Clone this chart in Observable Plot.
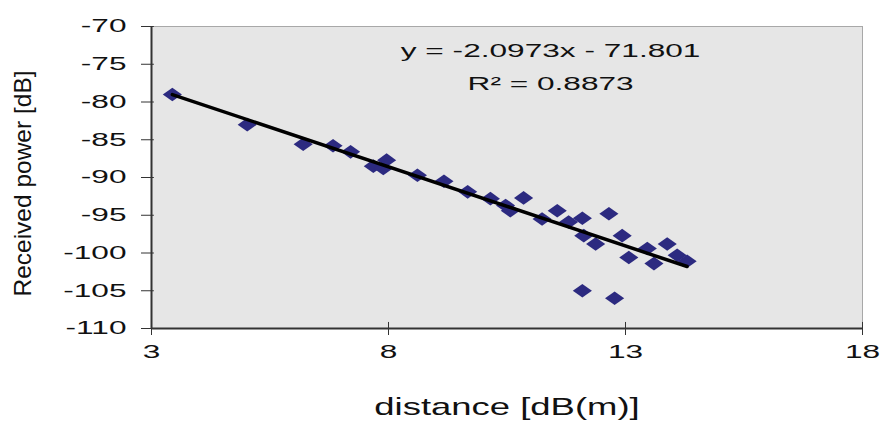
<!DOCTYPE html>
<html>
<head>
<meta charset="utf-8">
<script src="https://cdn.jsdelivr.net/npm/d3@7"></script>
<script src="https://cdn.jsdelivr.net/npm/@observablehq/plot@0.6"></script>
<style>
  html, body { margin: 0; padding: 0; background: #fff; }
</style>
</head>
<body>
<div id="chart"></div>
<script>
const distance = [3.44, 5.02, 6.20, 6.83, 7.20, 7.68, 7.89, 7.96, 8.61, 9.17, 9.67, 10.15, 10.47, 10.57, 10.85, 11.24, 11.56, 11.80, 12.09, 12.65, 12.12, 12.37, 12.93, 13.07, 13.46, 13.88, 13.60, 14.09, 14.30, 12.09, 12.77];
const power    = [-79.0, -83.0, -85.6, -85.8, -86.6, -88.5, -88.8, -87.7, -89.7, -90.5, -91.9, -92.8, -93.7, -94.4, -92.7, -95.5, -94.4, -95.9, -95.4, -94.8, -97.7, -98.8, -97.7, -100.6, -99.4, -98.8, -101.4, -100.3, -101.1, -105.0, -106.0];
const slope = -2.0973;
const intercept = -71.801;
const equationLines = ["y = -2.0973x - 71.801", "R\u00b2 = 0.8873"];
const xTicks = [3, 8, 13, 18];
const yTicks = [-70, -75, -80, -85, -90, -95, -100, -105, -110];
const xLabel = "distance [dB(m)]";
const yLabel = "Received power [dB]";

const points = distance.map((d, i) => ({x: d, y: power[i]}));
const xMin = d3.min(distance), xMax = d3.max(distance);
const fit = [xMin, xMax].map(x => ({x, y: slope * x + intercept}));
const eq = [
  {x: 11.42, y: -73.3, t: equationLines[0]},
  {x: 11.42, y: -77.68, t: equationLines[1]}
];

// wide diamond marker (the reference markers are wider than tall)
const wideDiamond = {
  draw(context, size) {
    const s = Math.sqrt(size);
    const hw = 0.9 * s, hh = 0.64 * s;
    context.moveTo(0, -hh);
    context.lineTo(hw, 0);
    context.lineTo(0, hh);
    context.lineTo(-hw, 0);
    context.closePath();
  }
};

const chart = Plot.plot({
  width: 883,
  height: 422,
  marginLeft: 151,
  marginRight: 21,
  marginTop: 26,
  marginBottom: 94,
  style: {fontFamily: "'Liberation Sans', Arial, sans-serif", fontSize: "18.6px", color: "#111", background: "#fff"},
  x: {domain: [3, 18]},
  y: {domain: [-110, -70]},
  marks: [
    Plot.frame({fill: "#e6e6e6", stroke: "#a8a8a8", strokeWidth: 1}),
    Plot.ruleX([3], {stroke: "#333", strokeWidth: 2}),
    Plot.ruleY([-110], {stroke: "#333", strokeWidth: 2}),
    Plot.ruleX(xTicks, {x: d => d, y1: -110, y2: -109.2, stroke: "#333"}),
    Plot.ruleY(yTicks, {y: d => d, x1: 3, x2: 3.06, stroke: "#333"}),
    Plot.axisY({ticks: yTicks, tickSize: 10, tickPadding: 15, tickFormat: d => String(d), label: null, stroke: "#333"}),
    Plot.axisX({ticks: xTicks, tickSize: 7, tickPadding: 9, tickFormat: d => String(d), label: null, stroke: "#333"}),
    Plot.text([xLabel], {frameAnchor: "bottom", dy: 86, fontSize: 24, fill: "#111"}),
    Plot.text([yLabel], {frameAnchor: "left", textAnchor: "middle", dx: -128, dy: 6, rotate: -90, fontSize: 24.5, fill: "#111"}),
    Plot.dot(points, {x: "x", y: "y", symbol: wideDiamond, r: 6, fill: "#2c2a80", stroke: "none"}),
    Plot.line(fit, {x: "x", y: "y", stroke: "#000", strokeWidth: 3.5}),
    Plot.text(eq, {x: "x", y: "y", text: "t", fill: "#111"})
  ]
});
document.getElementById("chart").appendChild(chart);

// the reference's text is horizontally stretched; widen glyphs around their anchor
const stretch = new Map([[xLabel, 1.52], [yLabel, 1]]);
chart.querySelectorAll("text").forEach(t => {
  const k = stretch.has(t.textContent) ? stretch.get(t.textContent) : 1.7;
  if (k === 1) return;
  const b = t.getBBox();
  const anchor = getComputedStyle(t).textAnchor;
  const ax = anchor === "middle" ? b.x + b.width / 2 : anchor === "end" ? b.x + b.width : b.x;
  const prev = t.getAttribute("transform") || "";
  t.setAttribute("transform", `${prev} translate(${ax},0) scale(${k},1) translate(${-ax},0)`.trim());
});
</script>
</body>
</html>
